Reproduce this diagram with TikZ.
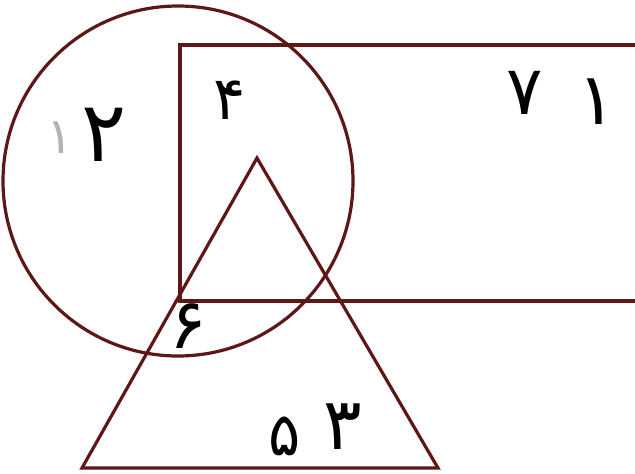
\documentclass[tikz,border=0pt]{standalone}
\usepackage{fontspec}
\newfontfamily\arabicfont[Script=Arabic]{DejaVu Sans}
\definecolor{ink}{HTML}{5E1616}
\tikzset{
  shape line/.style={draw=ink, line width=3.2pt},
  digit/.style={font=\arabicfont\fontsize{60}{60}\selectfont, text=black, inner sep=0pt},
  big digit/.style={digit, font=\arabicfont\fontsize{72}{72}\selectfont},
  faint digit/.style={digit, text=black!30, font=\arabicfont\fontsize{50}{50}\selectfont}
}
\begin{document}
\begin{tikzpicture}[x=1pt,y=-1pt]
\useasboundingbox (0,0) rectangle (635,474);
\begin{scope}
\clip (0,0) rectangle (635,474);
\draw[shape line] (178,181) circle[radius=175];
\draw[shape line] (180,45) rectangle (660,301);
\draw[shape line] (257,158) -- (82,468) -- (438,468) -- cycle;
\end{scope}
\node[faint digit] (d1a) at (60,138) {۱};
\node[big digit, font=\arabicfont\fontsize{84}{84}\selectfont] (d2) at (104,135) {۲};
\node[digit] (d4) at (230,100) {۴};
\node[digit, font=\arabicfont\fontsize{68}{68}\selectfont] (d7) at (525,93) {۷};
\node[big digit] (d1b) at (597,102) {۱};
\node[digit, font=\arabicfont\fontsize{70}{70}\selectfont] (d6) at (188,326) {۶};
\node[digit] (d5) at (285,436) {۵};
\node[big digit] (d3) at (343,427) {۳};
\end{tikzpicture}
\end{document}
